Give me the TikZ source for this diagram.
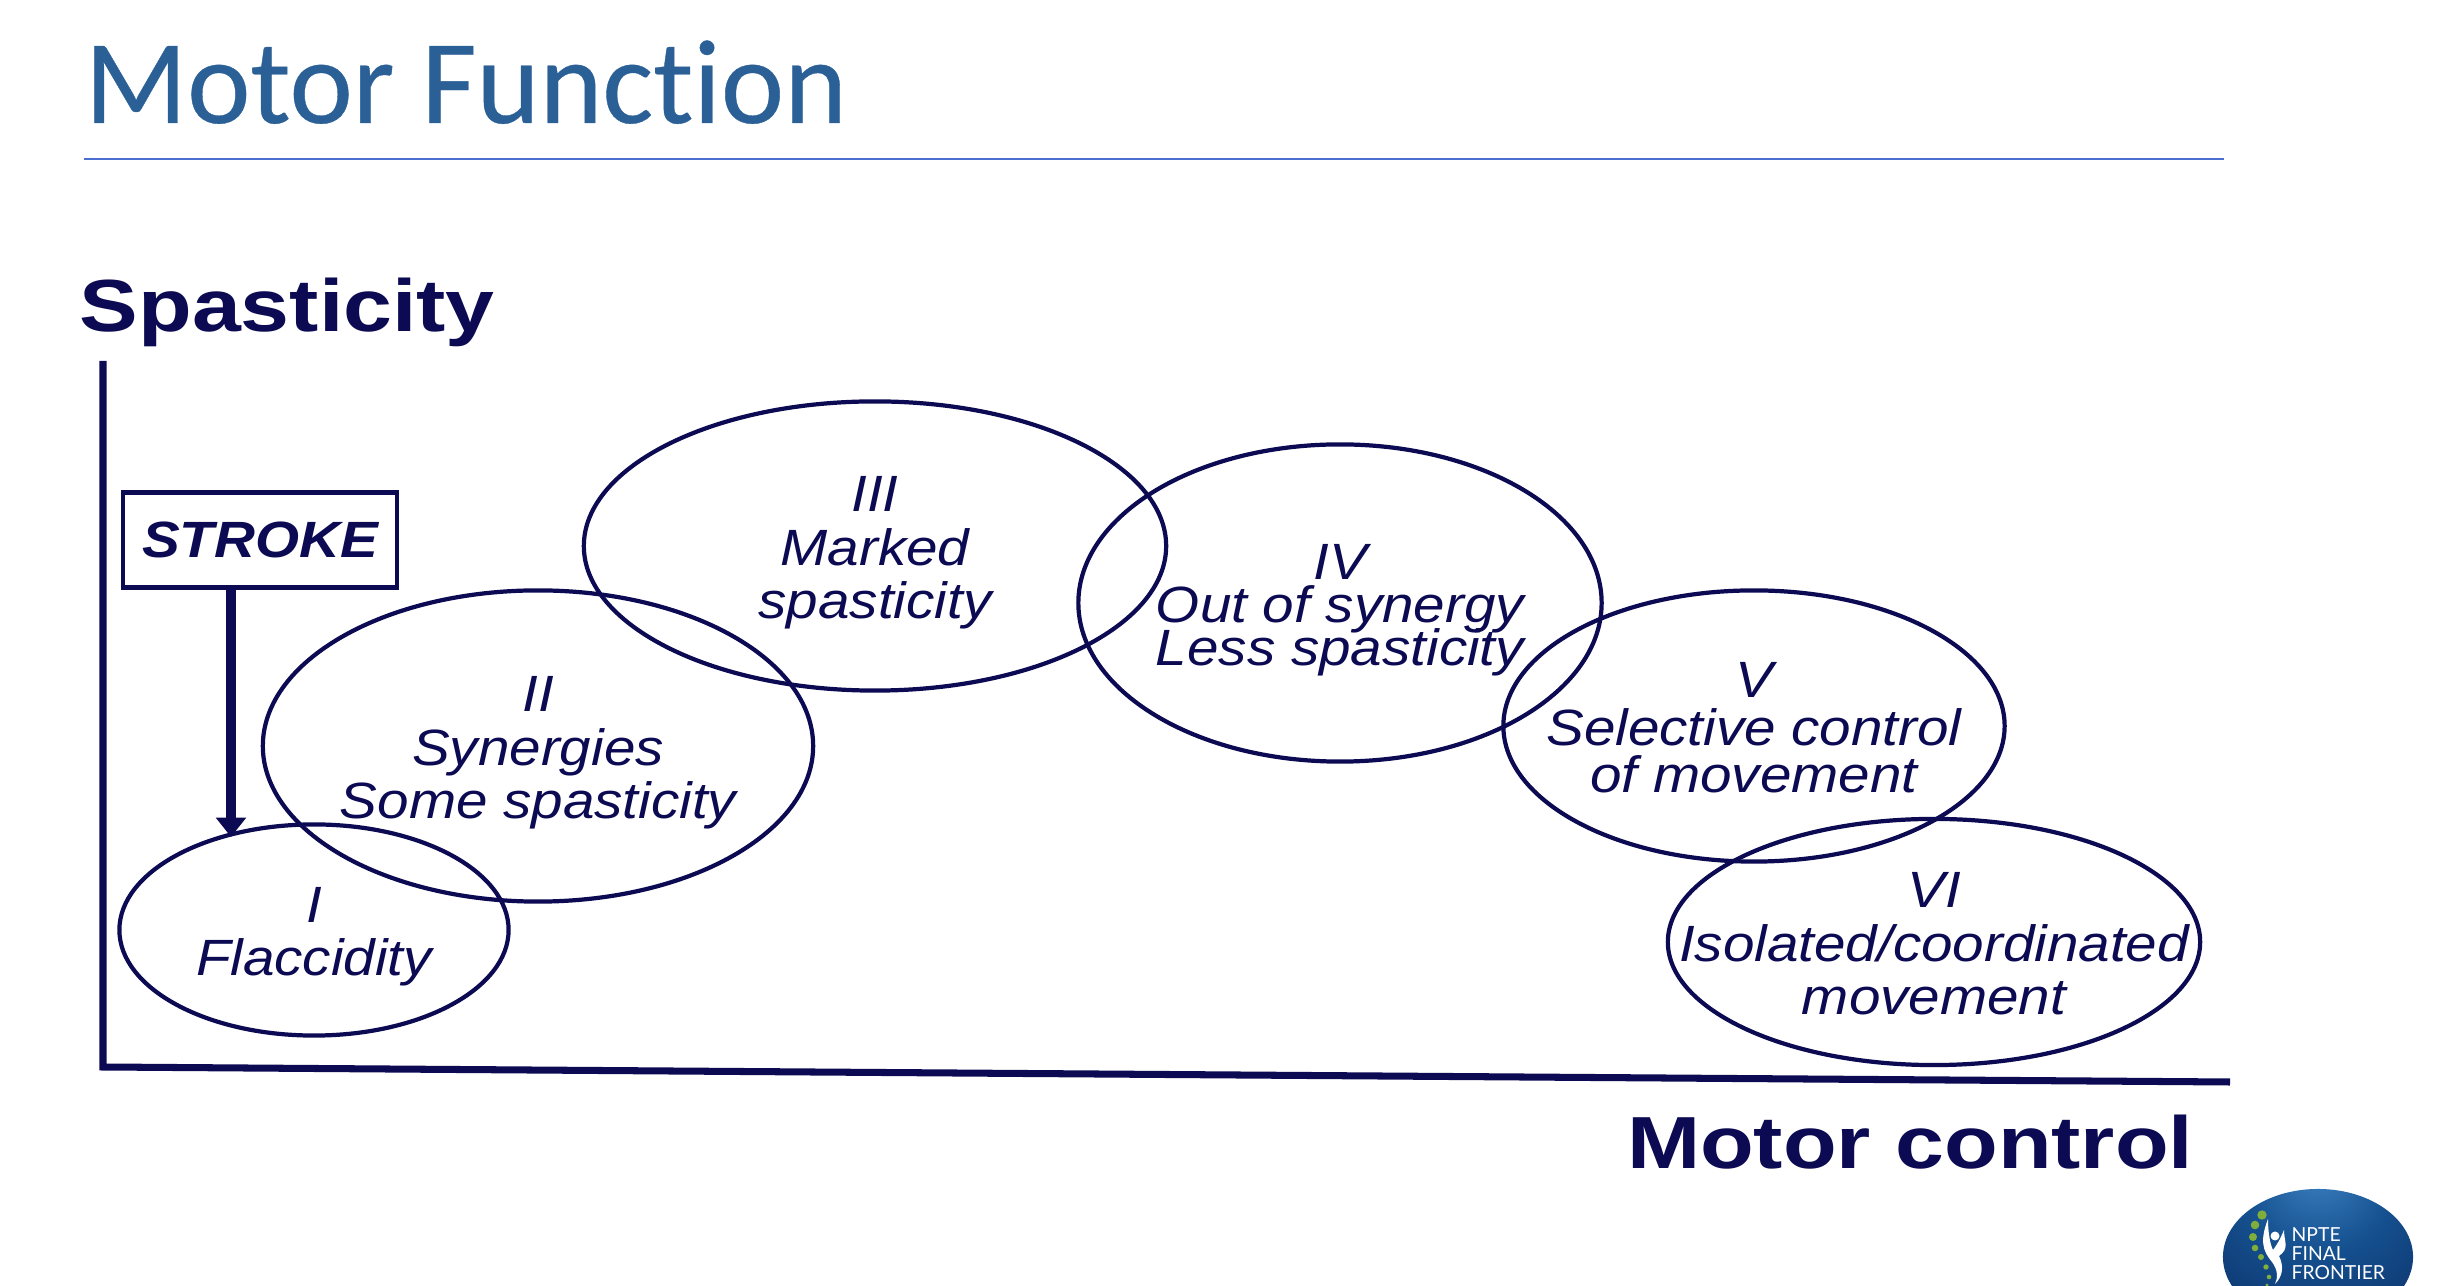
\documentclass[tikz,border=0pt]{standalone}
\usepackage{fontspec}
\setmainfont{Liberation Sans}
\newfontfamily\titlefont{Carlito}[Ligatures=NoCommon,FakeBold=0.3]
\newfontfamily\logofont{Lato}
\newfontfamily\wideheadfont{Liberation Sans}[FakeStretch=1.19]
\newfontfamily\widefont{Liberation Sans}[FakeStretch=1.11]
\usetikzlibrary{
  shapes.geometric,
  arrows.meta
}

\definecolor{navyink}{HTML}{0C0A52}
\definecolor{titleblue}{HTML}{2B6096}
\definecolor{ruleblue}{HTML}{4A6FD0}
\definecolor{logotop}{HTML}{3B80C0}
\definecolor{logomid}{HTML}{15508F}
\definecolor{logolow}{HTML}{0B2F66}
\definecolor{logogreen}{HTML}{7FAE3C}

\pgfdeclareradialshading{logoglow}{\pgfpoint{0bp}{32bp}}{
  color(0bp)=(logotop); color(18bp)=(logomid); color(42bp)=(logolow); color(50bp)=(logolow)}

\newcommand{\toproom}{\rule{0pt}{13.9pt}}

\tikzset{
  stage/.style = {ellipse, draw = navyink, line width = 1.2pt, inner sep = -1cm,
    align = center, text = navyink,
    execute at begin node = {\lineskiplimit=-20pt},
    execute at end node = {\rule[-3pt]{0pt}{3pt}}},
  axisline/.style = {draw = navyink, line width = 2pt},
  heading/.style = {inner sep = 0pt, text = navyink, font = \wideheadfont\bfseries\fontsize{21}{25}\selectfont},
  logoline/.style = {inner sep = 0pt, anchor = base west, text = white, font = \logofont\fontsize{5.5}{7}\selectfont}
}

\begin{document}
\begin{tikzpicture}[x = 0.01cm, y = -0.01cm]
    \useasboundingbox (0,0) rectangle (2438,1286);

    \node[anchor = base west, inner sep = 0pt, text = titleblue, font = \titlefont\fontsize{34.1}{40}\selectfont] (title) at (84,123) {Motor Function};
    \coordinate (ruleL) at (84,159);
    \coordinate (ruleR) at (2224,159);
    \draw[ruleblue, line width = 0.5pt] (ruleL) -- (ruleR);

    % axes
    \node[heading, anchor = base west] (ylabel) at (79,332) {Spasticity};
    \node[heading, anchor = base east] (xlabel) at (2194,1169) {Motor control};
    \coordinate (ytop) at (103,361);
    \coordinate (origin) at (103,1067);
    \coordinate (xend) at (2230,1082);
    \draw[axisline] (ytop) -- (origin) -- (xend);

    \node[stage, minimum width = 3.89cm, minimum height = 2.11cm, font = \widefont\itshape\fontsize{14.5}{15.2}\selectfont] (I) at (314,930) {\toproom I\\Flaccidity};
    \node[stage, minimum width = 5.50cm, minimum height = 3.11cm, font = \widefont\itshape\fontsize{14.5}{15.2}\selectfont] (II) at (538,746) {\toproom II\\Synergies\\Some spasticity};
    \node[stage, minimum width = 5.82cm, minimum height = 2.89cm, font = \widefont\itshape\fontsize{14.5}{15.2}\selectfont] (III) at (875,546) {\toproom III\\Marked\\spasticity};
    \node[stage, minimum width = 5.23cm, minimum height = 3.17cm, font = \widefont\itshape\fontsize{14.5}{12.2}\selectfont] (IV) at (1340,603) {\toproom IV\\Out of synergy\\Less spasticity};
    \node[stage, minimum width = 5.01cm, minimum height = 2.71cm, font = \widefont\itshape\fontsize{14.5}{13.6}\selectfont] (V) at (1754,726) {\toproom V\\Selective control\\of movement};
    \node[stage, minimum width = 5.32cm, minimum height = 2.46cm, font = \widefont\itshape\fontsize{14.5}{15.2}\selectfont] (VI) at (1934,942) {\toproom VI\\Isolated/coordinated\\movement};

    \node[draw = navyink, line width = 1.2pt, minimum width = 2.74cm, minimum height = 0.95cm, text = navyink, font = \widefont\bfseries\itshape\fontsize{14.5}{18}\selectfont] (stroke) at (260,540) {STROKE};
    \coordinate (hit) at (231,837);
    \draw[navyink, line width = 2.6pt, -{Triangle[length = 5.5pt, width = 8.3pt]}] (stroke.south -| hit) -- (hit);

    % logo, cut off by the page edge
    \begin{scope}
      \clip (0,0) rectangle (2438,1286);
      \node[ellipse, minimum width = 1.90cm, minimum height = 1.36cm, inner sep = 0pt, shading = logoglow] (logo) at (2318,1257) {};
      \foreach \px/\py/\pr in {2262/1215/4.7, 2255/1225/4.3, 2253/1237/4, 2255/1248/3.3, 2261/1257/3, 2266/1267/2.7, 2269/1277/2.3, 2267/1285/1.7}
        \fill[logogreen] (\px,\py) circle[radius = \pr*0.01cm];
      \fill[white] (2268,1219) .. controls (2260,1240) and (2262,1250) .. (2272,1262) .. controls (2278,1270) and (2278,1278) .. (2275,1284) .. controls (2283,1276) and (2284,1266) .. (2279,1256) .. controls (2290,1248) and (2284,1242) .. (2284,1230) .. controls (2280,1240) and (2276,1246) .. (2273,1250) .. controls (2270,1244) and (2268,1232) .. (2268,1219) -- cycle;
      \fill[white] (2275,1236) circle[radius = 0.045cm];
      \node[logoline] (npte) at (2291,1242) {NPTE};
      \node[logoline] (final) at (2291,1261) {FINAL};
      \node[logoline] (frontier) at (2291,1280) {FRONTIER};
    \end{scope}
\end{tikzpicture}
\end{document}
